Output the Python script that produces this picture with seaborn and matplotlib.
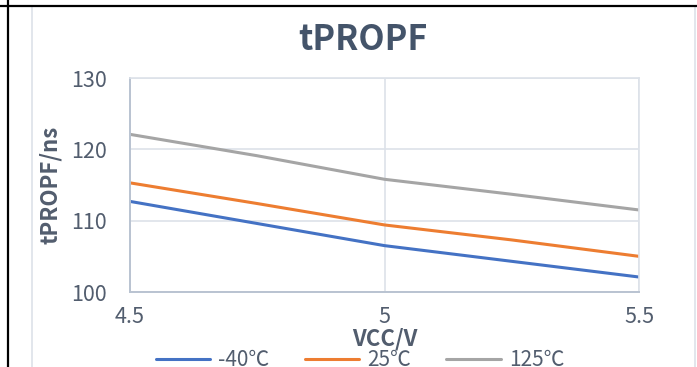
import matplotlib
matplotlib.use("Agg")
import matplotlib.pyplot as plt
from matplotlib.lines import Line2D
import pandas as pd
import seaborn as sns

# Propagation delay tPROPF versus supply voltage at three temperatures
vcc = [4.5, 4.75, 5.0, 5.25, 5.5]
t_m40 = [112.7, 109.6, 106.5, 104.3, 102.1]
t_25 = [115.3, 112.4, 109.4, 107.3, 105.0]
t_125 = [122.1, 119.1, 115.8, 113.7, 111.5]
series_names = ["-40℃", "25℃", "125℃"]
series_colors = ["#4472C4", "#ED7D31", "#A5A5A5"]
y_ticks = [100, 110, 120, 130]
x_ticks = [4.5, 5, 5.5]
x_tick_labels = ["4.5", "5", "5.5"]

df = pd.DataFrame({
    "VCC": vcc * 3,
    "t": t_m40 + t_25 + t_125,
    "series": [series_names[0]] * len(vcc) + [series_names[1]] * len(vcc) + [series_names[2]] * len(vcc),
})

sns.set_theme(style="white")
plt.rcParams["font.family"] = ["Noto Sans CJK SC", "DejaVu Sans"]

W, H = 697, 367
fig = plt.figure(figsize=(W / 100, H / 100), dpi=100)
ax = fig.add_axes([130 / W, 1 - 292 / H, (639 - 130) / W, (292 - 78) / H])

sns.lineplot(data=df, x="VCC", y="t", hue="series", hue_order=series_names,
             palette=series_colors, linewidth=2.2, ax=ax, legend=False)

text_col = "#525D6E"
ax.set_xlim(4.5, 5.5)
ax.set_ylim(100, 130)
ax.set_xticks(x_ticks)
ax.set_xticklabels(x_tick_labels)
ax.set_yticks(y_ticks)
ax.tick_params(axis="both", length=0, labelsize=15.5, labelcolor=text_col)
ax.tick_params(axis="x", pad=10)
ax.tick_params(axis="y", pad=17)
ax.grid(True, color="#DDE2E9", linewidth=1.2)
ax.set_axisbelow(True)
for side in ["top", "right"]:
    ax.spines[side].set_color("#DDE2E9")
    ax.spines[side].set_linewidth(1.2)
for side in ["left", "bottom"]:
    ax.spines[side].set_color("#B9C3D1")
    ax.spines[side].set_linewidth(1.4)

ax.set_xlabel("VCC/V", fontsize=16, fontweight="bold", color=text_col, va="center")
ax.xaxis.set_label_coords(0.5, (292 - 339) / 214)
ax.set_ylabel("tPROPF/ns", fontsize=16, fontweight="bold", color=text_col, labelpad=6)
fig.text(363 / W, 1 - 39 / H, "tPROPF", ha="center", va="center",
         fontsize=24.5, fontweight="bold", color="#44546A")

handles = [Line2D([0], [0], color=c, linewidth=2.2) for c in series_colors]
fig.legend(handles, series_names, loc="center", bbox_to_anchor=(360 / W, 1 - 360 / H),
           ncol=3, frameon=False, prop={"size": 15},
           handlelength=2.6, handletextpad=0.4, columnspacing=1.7, labelcolor=text_col)

# Surrounding frame of the chart block
fig.add_artist(Line2D([32 / W, 32 / W], [0, 1 - 7 / H], color="#DDE2E9", linewidth=1.2,
                      transform=fig.transFigure))
fig.add_artist(Line2D([695 / W, 695 / W], [0, 1 - 7 / H], color="#DDE2E9", linewidth=1.2,
                      transform=fig.transFigure))
fig.add_artist(Line2D([0, 1], [1 - 6 / H, 1 - 6 / H], color="black", linewidth=1.6,
                      transform=fig.transFigure))
fig.add_artist(Line2D([8 / W, 8 / W], [0, 1], color="black", linewidth=1.6,
                      transform=fig.transFigure))

fig.savefig("out.png", dpi=100)
